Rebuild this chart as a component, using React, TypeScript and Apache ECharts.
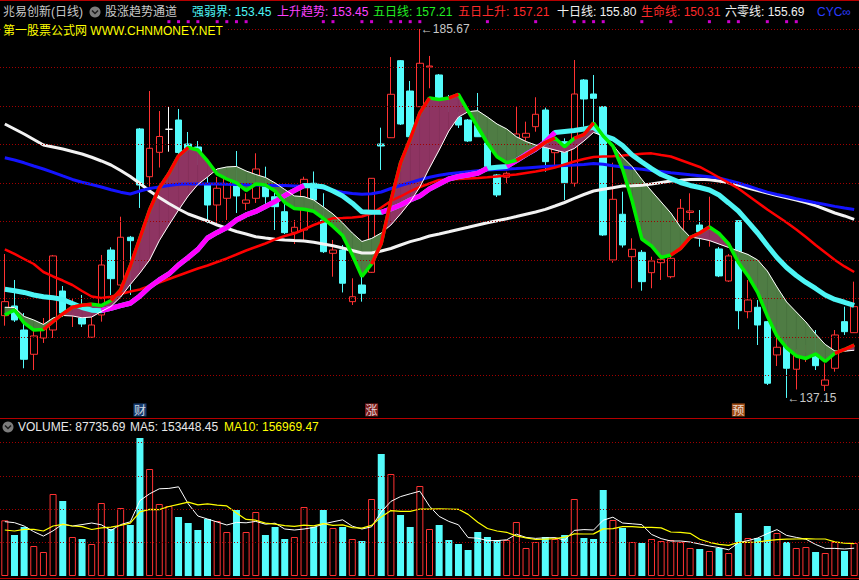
import React, { useEffect, useRef } from "react";
import * as echarts from "echarts";

const FONT = "'Liberation Sans', Arial, 'Noto Sans CJK SC', sans-serif";

// ---------- data ----------
const categories: string[] = Array.from({ length: 89 }, (_, i) => `D${i + 1}`);

// [open, close, low, high]
const ohlc: number[][] = [
  [147.97, 149.81, 146.65, 156.08], [149.24, 147.4, 147.14, 152.66], [146.08, 142.23, 141.05, 148.32],
  [142.89, 145.3, 140.82, 145.95], [145.03, 146.22, 144.38, 147.66], [146.08, 155.82, 145.03, 155.95],
  [151.21, 148.32, 147.79, 151.87], [148.45, 148.85, 146.48, 150.29], [147.66, 146.87, 146.48, 150.69],
  [145.13, 146.74, 145.03, 147.79], [148.06, 154.63, 147.18, 155.95], [156.6, 152.83, 150.69, 156.96],
  [152.0, 158.28, 151.87, 160.98], [158.28, 157.83, 150.69, 158.45], [172.52, 165.15, 162.13, 172.65],
  [166.24, 169.98, 164.93, 177.51], [169.45, 171.53, 167.45, 174.88], [172.48, 172.48, 169.53, 175.45],
  [173.7, 169.43, 169.1, 175.15], [170.54, 169.75, 169.1, 172.12], [170.15, 169.49, 167.78, 170.94],
  [165.15, 162.52, 160.12, 166.24], [162.52, 164.72, 160.16, 166.2], [163.4, 166.38, 160.55, 167.12],
  [165.68, 163.71, 161.47, 169.62], [162.75, 163.18, 161.86, 164.06], [163.4, 167.26, 162.79, 169.32],
  [165.9, 163.61, 162.3, 167.56], [163.61, 162.3, 159.23, 164.93], [161.64, 158.88, 158.71, 162.82],
  [158.93, 159.59, 157.39, 160.55], [159.23, 165.9, 157.92, 166.24], [165.38, 163.18, 162.79, 166.93],
  [160.55, 156.38, 156.21, 164.06], [156.17, 156.6, 153.09, 157.92], [156.6, 152.23, 151.02, 157.26],
  [149.81, 150.46, 149.37, 152.88], [152.0, 150.91, 149.81, 153.05], [153.67, 166.03, 153.58, 166.07],
  [170.54, 170.28, 167.12, 172.69], [171.37, 177.08, 171.33, 181.98], [181.5, 173.17, 173.04, 181.59],
  [177.51, 171.5, 171.46, 178.83], [175.45, 181.16, 175.41, 185.67], [180.67, 180.8, 177.87, 182.12],
  [179.62, 176.55, 176.46, 179.75], [176.59, 175.28, 174.75, 176.99], [174.09, 173.04, 172.65, 174.75],
  [173.7, 170.94, 170.81, 173.83], [172.98, 171.5, 171.46, 177.25], [170.68, 167.59, 167.52, 170.81],
  [166.47, 163.84, 163.57, 166.6], [166.17, 166.69, 165.38, 166.9], [168.7, 171.86, 168.18, 175.41],
  [171.43, 171.95, 170.85, 173.48], [172.82, 174.45, 172.16, 176.69], [175.01, 168.22, 166.9, 175.32],
  [169.4, 169.98, 167.56, 170.85], [170.85, 165.45, 163.18, 171.29], [165.38, 177.12, 164.93, 181.59],
  [178.96, 176.46, 172.82, 179.09], [177.12, 176.55, 172.82, 179.62], [175.45, 158.58, 158.45, 175.54],
  [155.29, 163.27, 154.93, 168.08], [161.3, 157.26, 156.93, 164.27], [155.72, 156.7, 151.57, 158.14],
  [156.3, 152.44, 151.25, 156.6], [153.62, 155.16, 151.57, 155.72], [154.93, 155.38, 152.66, 155.72],
  [153.09, 155.51, 152.88, 155.82], [159.01, 162.09, 158.84, 163.31], [161.54, 161.73, 160.55, 164.06],
  [159.89, 159.01, 157.04, 161.86], [158.18, 159.5, 157.04, 163.61], [156.74, 153.19, 153.04, 157.0],
  [152.53, 155.82, 152.4, 156.08], [160.46, 148.62, 146.18, 160.55], [148.49, 150.03, 147.62, 152.66],
  [149.07, 146.74, 144.11, 150.03], [147.18, 139.08, 138.85, 147.27], [142.8, 143.81, 141.35, 145.3],
  [143.98, 141.05, 137.15, 144.77], [140.92, 142.8, 138.26, 143.55], [142.53, 143.19, 141.88, 144.11],
  [142.57, 141.39, 140.82, 146.08], [138.81, 139.51, 137.31, 141.71], [141.05, 145.43, 140.6, 146.08],
  [147.18, 145.86, 145.43, 149.15], [145.73, 149.15, 145.69, 152.44],
];

const volumes: number[] = [
  167, 123, 147, 90, 72, 246, 225, 117, 111, 96,
  219, 141, 204, 153, 414, 321, 216, 210, 177, 159,
  138, 171, 165, 132, 198, 132, 192, 123, 147, 111,
  117, 207, 147, 198, 144, 147, 111, 105, 231, 366,
  306, 183, 147, 270, 141, 153, 108, 96, 78, 132,
  117, 108, 108, 162, 84, 102, 117, 111, 123, 231,
  114, 111, 258, 168, 144, 102, 99, 111, 105, 108,
  102, 84, 81, 75, 84, 69, 189, 114, 114, 150,
  129, 102, 84, 87, 72, 69, 102, 75, 99,
];
// moving-average values visible before a full window of volumes exists
const volMa5Lead: number[] = [163, 160, 150, 133];
const volMa10Lead: number[] = [138, 135, 140, 140, 135, 150, 155, 150, 148];

const ma5: number[] = [
  148.06, 148.71, 147.01, 146.08, 146.15, 147.2, 148.19, 149.07, 149.33, 149.48,
  149.31, 149.96, 151.34, 154.5, 158.18, 161.86, 164.76, 166.66, 168.97, 170.08,
  169.75, 168.31, 166.6, 165.94, 165.42, 164.43, 165.28, 165.15, 164.36, 162.85,
  162.06, 161.97, 161.69, 160.75, 159.7, 158.51, 155.95, 153.12, 154.76, 157.46,
  163.05, 168.05, 171.2, 174.62, 176.59, 176.4, 176.59, 177.08, 174.88, 172.78,
  170.64, 168.87, 168.08, 168.41, 169.1, 169.89, 170.74, 171.33, 170.19, 171.29,
  171.79, 173.31, 171.6, 170.28, 167.26, 163.05, 158.05, 157.13, 155.62, 155.95,
  156.8, 158.25, 158.84, 159.63, 158.77, 157.39, 154.96, 153.19, 151.02, 147.93,
  145.3, 143.72, 142.67, 142.34, 142.93, 141.94, 143.02, 143.52, 144.11,
];
const ma10: number[] = [
  149.07, 149.04, 147.86, 147.4, 146.81, 147.66, 147.99, 147.93, 147.69, 147.79,
  148.52, 149.18, 150.42, 152.07, 153.58, 155.29, 157.83, 159.89, 161.86, 163.71,
  165.22, 166.2, 167.26, 167.52, 167.59, 166.99, 166.53, 166.14, 165.42, 164.56,
  163.71, 163.61, 163.18, 162.26, 161.34, 160.16, 158.84, 157.72, 158.12, 158.84,
  159.89, 161.34, 162.92, 164.89, 167.39, 169.75, 172.25, 174.09, 174.79, 174.92,
  174.09, 173.17, 172.52, 171.5, 170.87, 170.41, 170.08, 169.75, 169.43, 169.95,
  170.94, 172.06, 171.6, 170.41, 168.83, 167.56, 165.88, 164.36, 162.92, 161.47,
  159.63, 158.31, 158.12, 157.85, 157.39, 156.93, 156.47, 156.01, 155.29, 153.84,
  151.74, 149.77, 148.45, 147.14, 145.56, 144.18, 143.32, 143.3, 143.42,
];
const lifeLine: number[] = [
  156.7, 156.08, 155.42, 154.76, 153.71, 153.12, 152.59, 152.0, 151.21, 150.49,
  150.29, 150.46, 150.82, 151.15, 151.41, 151.87, 152.33, 152.79, 153.25, 153.71,
  154.17, 154.57, 155.03, 155.49, 156.01, 156.54, 157.0, 157.46, 157.99, 158.45,
  158.77, 159.3, 159.89, 160.35, 160.77, 160.81, 160.87, 161.01, 161.4, 162.19,
  163.05, 163.64, 164.3, 164.89, 165.35, 165.81, 165.88, 165.94, 166.01, 166.07,
  166.16, 166.28, 166.4, 166.53, 166.73, 166.93, 167.15, 167.44, 167.85, 168.24,
  168.57, 168.83, 168.9, 168.94, 169.02, 169.12, 169.26, 169.31, 169.1, 168.9,
  168.44, 167.98, 167.52, 166.86, 166.14, 165.42, 164.69, 163.77, 162.85, 161.93,
  161.08, 160.22, 159.3, 158.31, 157.26, 156.28, 155.29, 154.44, 153.71,
];
const ma60: number[] = [
  173.17, 172.52, 171.86, 171.14, 170.41, 170.15, 169.89, 169.56, 169.23, 168.8,
  168.31, 167.78, 167.06, 166.27, 165.35, 164.36, 163.51, 162.72, 162.0, 161.34,
  160.88, 160.42, 159.89, 159.46, 159.04, 158.71, 158.35, 158.18, 158.03, 157.92,
  157.85, 157.79, 157.62, 157.39, 157.17, 156.87, 156.54, 156.21, 156.21, 156.47,
  156.8, 157.26, 157.7, 158.03, 158.45, 158.71, 159.0, 159.3, 159.59, 159.89,
  160.18, 160.46, 160.71, 161.0, 161.3, 161.6, 161.94, 162.39, 162.85, 163.38,
  163.9, 164.36, 164.59, 164.78, 165.02, 165.06, 165.13, 165.28, 165.48, 165.68,
  165.77, 165.88, 165.9, 165.84, 165.68, 165.45, 165.15, 164.76, 164.42, 164.1,
  163.77, 163.47, 163.18, 162.85, 162.44, 161.96, 161.47, 161.08, 160.64,
];
const cycLine: number[] = [
  168.74, 168.44, 168.07, 167.65, 167.26, 166.82, 166.34, 165.88, 165.51, 165.22,
  164.89, 164.53, 164.21, 163.97, 164.36, 164.69, 164.89, 165.09, 165.24, 165.28,
  165.28, 165.28, 165.28, 165.24, 165.21, 165.18, 165.15, 165.13, 165.1, 165.07,
  165.03, 164.99, 164.94, 164.76, 164.43, 164.19, 164.03, 163.93, 164.0, 164.23,
  164.69, 165.09, 165.45, 165.84, 166.17, 166.43, 166.63, 166.77, 166.91, 167.03,
  167.11, 167.18, 167.23, 167.31, 167.4, 167.49, 167.57, 167.64, 167.7, 167.77,
  167.86, 167.98, 167.88, 167.68, 167.52, 167.36, 167.22, 167.07, 166.93, 166.77,
  166.63, 166.49, 166.36, 166.23, 166.07, 165.74, 165.42, 165.02, 164.6, 164.21,
  163.9, 163.63, 163.34, 163.07, 162.82, 162.58, 162.34, 162.13, 161.93,
];
const trendLine: number[] = [
  151.44, 151.25, 151.02, 150.69, 150.46, 150.32, 150.1, 149.57, 149.04, 148.69,
  148.62, 148.94, 149.28, 149.6, 150.56, 151.74, 152.66, 153.45, 154.63, 155.62,
  156.67, 158.18, 158.91, 159.56, 160.55, 161.21, 161.67, 162.33, 162.98, 163.77,
  164.43, 165.09, 165.05, 164.92, 164.36, 163.71, 162.76, 161.63, 161.56, 161.56,
  162.0, 162.52, 163.18, 163.71, 164.63, 165.28, 165.94, 166.27, 166.47, 166.69,
  167.35, 167.48, 167.59, 168.37, 169.16, 169.89, 170.81, 172.06, 172.19, 172.32,
  172.52, 172.74, 171.66, 171.23, 170.35, 169.1, 168.18, 167.32, 166.53, 166.01,
  165.48, 165.09, 164.82, 164.49, 163.84, 162.79, 161.73, 160.29, 158.84, 157.2,
  155.62, 154.3, 153.25, 152.33, 151.54, 150.69, 150.1, 149.73, 149.31,
];
// index ranges where the channel line is drawn as 上升趋势 (magenta)
const trendUpRanges: number[][] = [[10, 31], [39, 50], [52, 57]];
// indices of the small magenta signal dots along the top
const signalDots: number[] = [17, 18, 19, 20, 22, 23, 24, 25, 33, 34, 37, 38, 40, 41, 42, 43, 50, 55, 59, 60, 61, 62, 66, 69, 73, 75, 76, 79, 81, 82];
const signalLevel = 186.63;
const markerLevel = 135.57;
const markers = [
  { index: 14, text: "财", color: "#1d4b8c" },
  { index: 38, text: "涨", color: "#9a2222" },
  { index: 76, text: "预", color: "#c8601c" },
];
const priceGrid: number[] = [185.67, 180.6, 175.54, 170.48, 165.42, 160.35, 155.29, 150.23, 145.17, 140.1];
const volumeGrid: number[] = [100, 200, 300, 400];

const headerTexts = {
  stock: "兆易创新(日线)",
  indicator: "股涨趋势通道",
  items: [
    "强弱界: 153.45", "上升趋势: 153.45", "五日线: 157.21", "五日上升: 157.21",
    "十日线: 155.80", "生命线: 150.31", "六零线: 155.69", "CYC∞",
  ],
  site: "第一股票公式网 WWW.CHNMONEY.NET",
  volume: ["VOLUME: 87735.69", "MA5: 153448.45", "MA10: 156969.47"],
};

// ---------- styles ----------
const RED = "#ff3232";
const CYAN = "#54fcfc";
const BAND_UP = "#8e3462";
const BAND_DOWN = "#4f7c44";

function buildOption(): any {
  const isUp = (i: number) => ohlc[i][1] >= ohlc[i][0];
  const candleData = ohlc.map((d) =>
    d[0] === d[1]
      ? { value: d, itemStyle: { color: "#ffffff", color0: "#ffffff", borderColor: "#ffffff", borderColor0: "#ffffff" } }
      : d
  );
  let hiIdx = 0;
  let loIdx = 0;
  ohlc.forEach((d, i) => {
    if (d[3] > ohlc[hiIdx][3]) hiIdx = i;
    if (d[2] < ohlc[loIdx][2]) loIdx = i;
  });

  const volMa = (n: number, lead: number[]) =>
    volumes.map((_, i) =>
      i < lead.length ? lead[i] : +(volumes.slice(i - n + 1, i + 1).reduce((a, b) => a + b, 0) / n).toFixed(2)
    );

  const ma5Rise = ma5.map((v, i) => (i > 0 && v > ma5[i - 1] ? v : null));
  const trendUp = trendLine.map((v, i) => (trendUpRanges.some(([a, b]) => i >= a && i <= b) ? v : null));
  const band = ma5.slice(0, -1).map((v, i) => [i, v, ma10[i], ma5[i + 1], ma10[i + 1]]);

  const lineS = (data: any[], color: string, width: number, z: number) => ({
    type: "line", data, symbol: "none", z, silent: true,
    lineStyle: { color, width }, xAxisIndex: 0, yAxisIndex: 0,
  });

  const txt = (text: string, x: number, y: number, fill: string, extra: any = {}) => ({
    type: "text", x, y, z: 100, silent: true,
    style: { text, fill, fontSize: 12, fontFamily: FONT, verticalAlign: "middle", ...extra },
  });
  const headerX = [192, 277, 373, 458, 557, 641, 725, 817];
  const headerColors = ["#4df5f5", "#ff40ff", "#22ee22", "#ff2a2a", "#f0f0f0", "#ff2a2a", "#f0f0f0", "#2a3cff"];
  const icon = (cx: number, cy: number) => [
    { type: "circle", z: 100, shape: { cx, cy, r: 5.5 }, style: { fill: "#7c7c7c" } },
    { type: "polyline", z: 101, shape: { points: [[cx - 3, cy - 1.5], [cx, cy + 1.5], [cx + 3, cy - 1.5]] }, style: { stroke: "#1c1c1c", lineWidth: 1.5, fill: null } },
  ];

  const graphic = [
    { type: "line", z: 100, shape: { x1: 0, y1: 0.5, x2: 859, y2: 0.5 }, style: { stroke: "#b40000", lineWidth: 1 } },
    { type: "line", z: 100, shape: { x1: 0, y1: 418.5, x2: 859, y2: 418.5 }, style: { stroke: "#b40000", lineWidth: 1 } },
    { type: "line", z: 100, shape: { x1: 0, y1: 578.5, x2: 859, y2: 578.5 }, style: { stroke: "#b40000", lineWidth: 1 } },
    txt(headerTexts.stock, 3, 12, "#c8c8c8"),
    ...icon(95, 12),
    txt(headerTexts.indicator, 105, 12, "#c8c8c8"),
    ...headerTexts.items.map((t, i) => txt(t, headerX[i], 12, headerColors[i])),
    txt(headerTexts.site, 2, 31, "#ffff00", { backgroundColor: "#000", padding: [1, 3, 1, 1] }),
    ...icon(8, 427),
    txt(headerTexts.volume[0], 18, 427, "#e8e8e8"),
    txt(headerTexts.volume[1], 130, 427, "#e8e8e8"),
    txt(headerTexts.volume[2], 224, 427, "#ffff00"),
  ];

  return {
    animation: false,
    backgroundColor: "#000",
    graphic,
    grid: [
      { left: 0, right: 0, top: 20, height: 397 },
      { left: 0, right: 0, top: 418, height: 158 },
    ],
    xAxis: [
      { type: "category", gridIndex: 0, data: categories, show: false, boundaryGap: true },
      { type: "category", gridIndex: 1, data: categories, show: false, boundaryGap: true },
    ],
    yAxis: [
      { type: "value", gridIndex: 0, min: 134.64, max: 186.85, show: false, splitLine: { show: false } },
      { type: "value", gridIndex: 1, min: 0, max: 474, show: false, splitLine: { show: false } },
    ],
    series: [
      {
        type: "candlestick", data: candleData, barWidth: 7, z: 2, silent: true,
        xAxisIndex: 0, yAxisIndex: 0,
        itemStyle: { color: "#000000", color0: CYAN, borderColor: RED, borderColor0: CYAN, borderWidth: 1 },
        markLine: {
          silent: true, symbol: ["none", "none"], label: { show: false },
          lineStyle: { color: "#a00000", type: [1, 2], width: 1 },
          data: priceGrid.map((v) => ({ yAxis: v })),
        },
        markPoint: {
          silent: true, symbol: "circle", symbolSize: 0,
          label: {
            show: true, position: "right", distance: 1, color: "#c8c8c8", fontSize: 12, fontFamily: FONT,
            backgroundColor: "#000", padding: [1, 2, 1, 0],
            formatter: (p: any) => "←" + Number(p.value).toFixed(2),
          },
          data: [
            { coord: [hiIdx, ohlc[hiIdx][3]], value: ohlc[hiIdx][3] },
            { coord: [loIdx, ohlc[loIdx][2]], value: ohlc[loIdx][2] },
          ],
        },
      },
      {
        type: "custom", xAxisIndex: 0, yAxisIndex: 0, z: 3, silent: true,
        encode: { x: 0, y: [1, 2, 3, 4] },
        data: band,
        renderItem: (_params: any, api: any) => {
          const i = api.value(0);
          const a0 = api.value(1), b0 = api.value(2), a1 = api.value(3), b1 = api.value(4);
          const A0 = api.coord([i, a0]), B0 = api.coord([i, b0]);
          const A1 = api.coord([i + 1, a1]), B1 = api.coord([i + 1, b1]);
          const d0 = a0 - b0, d1 = a1 - b1;
          const col = (d: number) => (d >= 0 ? BAND_UP : BAND_DOWN);
          if (d0 * d1 >= 0) {
            const c = col(d0 + d1);
            return { type: "polygon", shape: { points: [A0, A1, B1, B0] }, style: { fill: c, stroke: c, lineWidth: 0.6 } };
          }
          const t = d0 / (d0 - d1);
          const X = [A0[0] + t * (A1[0] - A0[0]), A0[1] + t * (A1[1] - A0[1])];
          return {
            type: "group",
            children: [
              { type: "polygon", shape: { points: [A0, X, B0] }, style: { fill: col(d0), stroke: col(d0), lineWidth: 0.6 } },
              { type: "polygon", shape: { points: [X, A1, B1] }, style: { fill: col(d1), stroke: col(d1), lineWidth: 0.6 } },
            ],
          };
        },
      },
      lineS(ma60, "#f2f2f2", 3, 4),
      lineS(cycLine, "#1414ff", 3, 4),
      lineS(lifeLine, "#ff0000", 2.5, 4),
      lineS(trendLine, "#4df5f5", 5, 5),
      lineS(trendUp, "#ff00ff", 5, 5),
      lineS(ma10, "#ffffff", 1, 6),
      lineS(ma5, "#00f000", 3.5, 7),
      lineS(ma5Rise, "#ff0000", 3.5, 7),
      {
        type: "scatter", xAxisIndex: 0, yAxisIndex: 0, z: 8, silent: true,
        symbol: "rect", symbolSize: 3, itemStyle: { color: "#ff00ff" },
        data: signalDots.map((i) => [i, signalLevel]),
      },
      {
        type: "scatter", xAxisIndex: 0, yAxisIndex: 0, z: 8, silent: true,
        symbol: "rect", symbolSize: [13, 13],
        label: { show: true, position: "inside", color: "#ffffff", fontSize: 12, fontFamily: "'Noto Sans CJK SC', sans-serif" },
        data: markers.map((m) => ({ value: [m.index, markerLevel], itemStyle: { color: m.color }, label: { formatter: m.text } })),
      },
      {
        type: "bar", xAxisIndex: 1, yAxisIndex: 1, barWidth: 7, z: 2, silent: true,
        data: volumes.map((v, i) => ({
          value: v,
          itemStyle: isUp(i)
            ? { color: "#000000", borderColor: RED, borderWidth: 1 }
            : { color: CYAN, borderColor: CYAN, borderWidth: 0 },
        })),
        markLine: {
          silent: true, symbol: ["none", "none"], label: { show: false },
          lineStyle: { color: "#a00000", type: [1, 2], width: 1 },
          data: volumeGrid.map((v) => ({ yAxis: v })),
        },
      },
      { type: "line", xAxisIndex: 1, yAxisIndex: 1, data: volMa(5, volMa5Lead), symbol: "none", z: 4, silent: true, lineStyle: { color: "#ffffff", width: 1 } },
      { type: "line", xAxisIndex: 1, yAxisIndex: 1, data: volMa(10, volMa10Lead), symbol: "none", z: 4, silent: true, lineStyle: { color: "#ffff00", width: 1.2 } },
    ],
  };
}

export default function App() {
  const ref = useRef<HTMLDivElement>(null);
  useEffect(() => {
    document.body.style.margin = "0";
    document.body.style.background = "#000";
    const chart = echarts.init(ref.current as HTMLDivElement, null, { renderer: "svg" });
    chart.setOption(buildOption());
    return () => chart.dispose();
  }, []);
  return <div ref={ref} style={{ width: 859, height: 580, background: "#000" }} />;
}
